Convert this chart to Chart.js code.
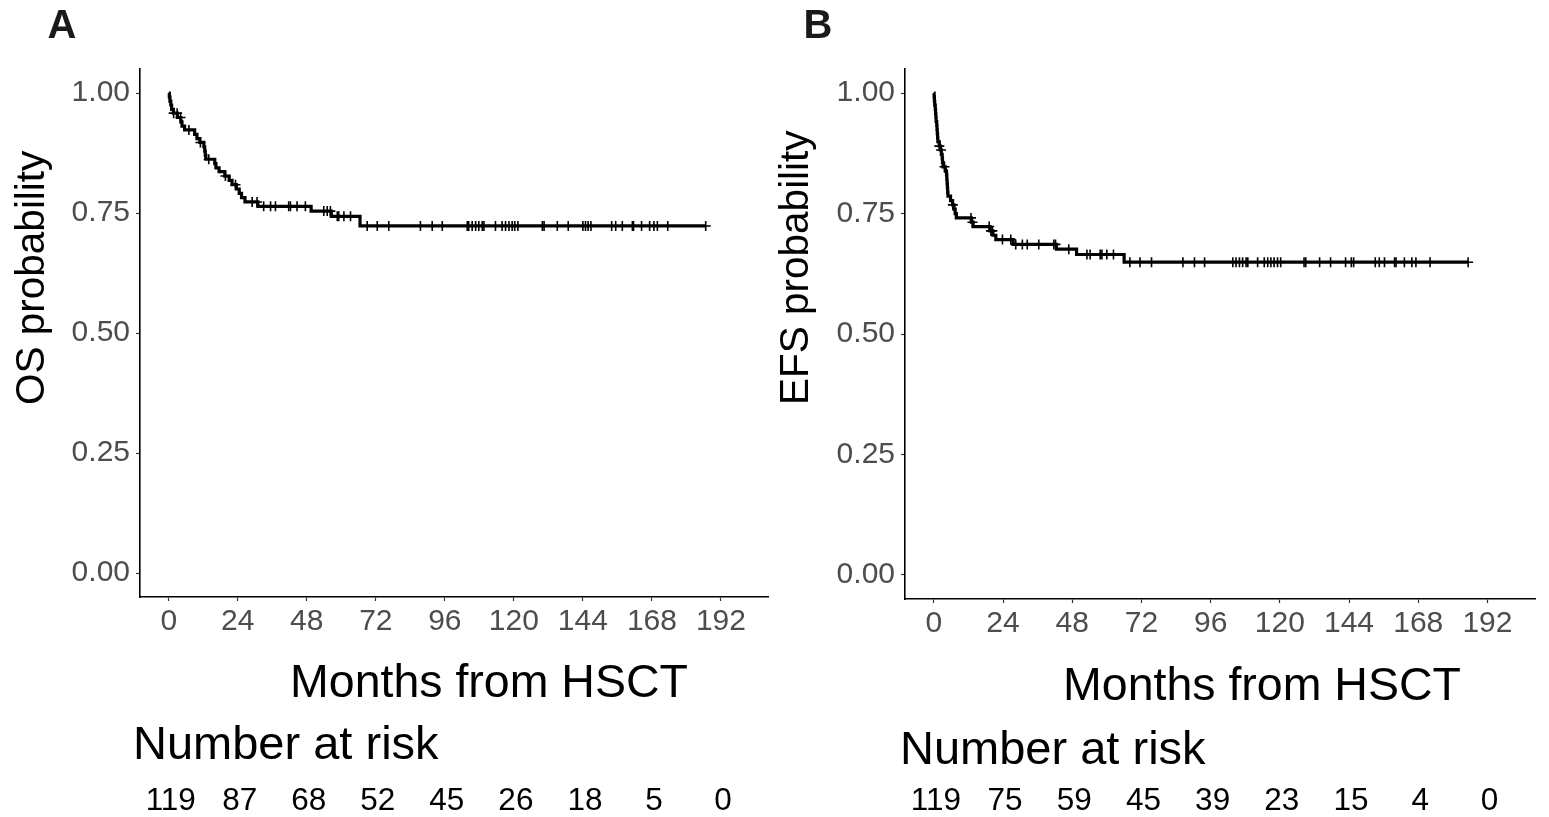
<!DOCTYPE html>
<html lang="en">
<head>
    <meta charset="UTF-8">
    <title>OS and EFS after HSCT</title>
    <script src="https://cdn.jsdelivr.net/npm/chart.js@4.4.1/dist/chart.umd.min.js"></script>
    <style>
        body {
            margin: 0;
            background: #fff;
        }
        .wrap {
            position: relative;
            width: 1549px;
            height: 817px;
        }
        .panel {
            position: absolute;
            top: 0;
        }
    </style>
</head>
<body>
    <div class="wrap">
        <div class="panel" style="left:0"><canvas id="osChart" width="775" height="817"></canvas></div>
        <div class="panel" style="left:775px"><canvas id="efsChart" width="774" height="817"></canvas></div>
    </div>

    <script>
        const FONT = '"Liberation Sans", Arial, sans-serif';

        const xTicks = [0, 24, 48, 72, 96, 120, 144, 168, 192];
        const yTicks = [0, 0.25, 0.5, 0.75, 1];

        // number at risk under each x tick
        const osRisk = [119, 87, 68, 52, 45, 26, 18, 5, 0];
        const efsRisk = [119, 75, 59, 45, 39, 23, 15, 4, 0];

        // Kaplan-Meier steps: time of event (months) and survival after it
        const osTimes = [0, 0.2, 0.4, 0.7, 1.0, 1.6, 3.0, 4.2, 4.6, 5.5, 9.0, 9.8, 10.8, 12.2, 12.5, 12.7, 12.9,
            16.0, 16.4, 17.5, 19.5, 21.0, 22.0, 23.5, 24.5, 25.3, 26.5, 31.0, 49.5, 56.5, 66.5, 186.7];
        const osSurv = [1, 0.992, 0.983, 0.975, 0.966, 0.958, 0.949, 0.940, 0.931, 0.923, 0.914, 0.905, 0.897, 0.888, 0.879, 0.870, 0.862,
            0.853, 0.844, 0.836, 0.827, 0.818, 0.809, 0.800, 0.791, 0.782, 0.773, 0.764, 0.754, 0.743, 0.723, 0.723];
        const osCensor = [1.7, 2.9, 4.1, 7.0, 11.0, 13.9, 19.7, 23.2, 29.0, 30.7, 33.0, 35.4, 37.1, 41.7, 42.3, 44.6, 47.5,
            53.9, 55.1, 56.2, 58.6, 59.1, 60.9, 63.2, 69.0, 72.5, 76.5, 87.5, 91.6, 95.1, 103.8, 104.3, 105.5, 106.7,
            107.8, 109.0, 109.6, 113.6, 115.9, 117.1, 118.3, 119.4, 120.3, 121.4, 129.9, 130.5, 135.1, 138.9, 144.0,
            144.9, 145.8, 146.8, 154.0, 155.4, 157.7, 161.2, 161.6, 164.4, 167.2, 168.7, 169.9, 173.5, 186.7];

        const efsTimes = [0, 0.1, 0.2, 0.3, 0.5, 0.6, 0.7, 0.8, 1.0, 1.1, 1.2, 1.3, 1.4, 1.9, 2.3, 2.6, 2.9, 3.0, 3.2,
            4.0, 4.4, 4.5, 4.6, 4.7, 4.8, 4.9, 5.8, 6.5, 7.0, 7.4, 7.8, 13.0, 13.6, 19.5, 20.5, 21.5, 27.5, 42.5, 49.5, 66.0, 185.3];
        const efsSurv = [1, 0.992, 0.983, 0.975, 0.966, 0.958, 0.950, 0.941, 0.933, 0.924, 0.916, 0.907, 0.899, 0.890, 0.882, 0.873, 0.865, 0.856, 0.847,
            0.838, 0.830, 0.821, 0.812, 0.803, 0.794, 0.786, 0.777, 0.768, 0.759, 0.750, 0.741, 0.732, 0.723, 0.714, 0.705, 0.696, 0.686, 0.676, 0.665, 0.649, 0.649];
        const efsCensor = [1.9, 2.5, 3.7, 6.6, 12.9, 13.4, 19.2, 19.8, 20.3, 23.8, 26.7, 28.4, 30.7, 32.4, 36.4, 41.6, 42.2,
            46.8, 53.1, 54.2, 57.7, 58.3, 60.0, 62.3, 68.0, 71.5, 75.5, 86.4, 90.4, 93.9, 103.7, 104.8, 106.0, 107.1,
            108.3, 108.9, 112.3, 114.6, 115.8, 116.9, 118.0, 119.2, 120.3, 128.4, 129.0, 133.8, 137.6, 142.8, 144.8,
            145.6, 153.1, 154.5, 156.3, 159.8, 160.3, 163.2, 165.8, 167.2, 172.1, 185.3];

        // survival value of the step curve at time t
        function survAt(times, surv, t) {
            let s = surv[0];
            for (let i = 0; i < times.length; i++) {
                if (times[i] <= t) s = surv[i];
            }
            return s;
        }

        // axis titles, panel letter and risk table
        const panelText = {
            id: 'panelText',
            afterDraw(chart) {
                const o = chart.options.plugins.panelText;
                const ctx = chart.ctx;
                const xs = chart.scales.x;
                ctx.save();

                ctx.font = 'bold 40px ' + FONT;
                ctx.fillStyle = '#1a1a1a';
                ctx.textAlign = 'center';
                ctx.textBaseline = 'alphabetic';
                ctx.fillText(o.letter, o.letterX, 38);

                ctx.fillStyle = '#000';
                ctx.save();
                ctx.translate(o.yTitleX, 405);
                ctx.rotate(-Math.PI / 2);
                ctx.textAlign = 'left';
                ctx.font = '40.5px ' + FONT;
                ctx.fillText(o.yTitle, 0, 0);
                ctx.restore();

                ctx.font = '46.5px ' + FONT;
                ctx.textAlign = 'center';
                ctx.fillText('Months from HSCT', o.xTitleX, o.xTitleY);

                ctx.font = '47px ' + FONT;
                ctx.textAlign = 'left';
                ctx.fillText('Number at risk', o.riskX, o.riskTitleY);

                ctx.font = '31.5px ' + FONT;
                ctx.textAlign = 'center';
                o.risk.forEach((n, i) => {
                    ctx.fillText(String(n), xs.getPixelForValue(xTicks[i]) + 2, 810);
                });
                ctx.restore();
            }
        };

        function makePanel(id, p) {
            const curve = p.times.map((t, i) => ({ x: t, y: p.surv[i] }));
            const marks = p.censor.map(t => ({ x: t, y: survAt(p.times, p.surv, t) }));

            const axisCommon = {
                grid: { display: true, drawOnChartArea: false, drawTicks: true, tickLength: 4, tickColor: '#333', tickWidth: 1.2 },
                border: { display: true, color: '#000', width: 1.6 },
                ticks: { color: '#4d4d4d', font: { family: FONT, size: 30 } }
            };

            return new Chart(document.getElementById(id), {
                type: 'line',
                data: {
                    datasets: [{
                        data: curve,
                        borderColor: '#000',
                        borderWidth: 3.2,
                        stepped: 'before',
                        pointRadius: 0,
                        fill: false
                    }, {
                        data: marks,
                        showLine: false,
                        pointStyle: 'cross',
                        pointRadius: 5,
                        borderColor: '#000',
                        pointBorderWidth: 1.6
                    }]
                },
                options: {
                    responsive: false,
                    animation: false,
                    layout: { padding: { left: 0, right: p.padRight, top: p.top, bottom: 0 } },
                    plugins: {
                        legend: { display: false },
                        tooltip: { enabled: false },
                        panelText: p.text
                    },
                    scales: {
                        x: {
                            ...axisCommon,
                            type: 'linear',
                            min: -10,
                            max: 208.5,
                            ticks: { ...axisCommon.ticks, padding: 3, maxRotation: 0, autoSkip: false },
                            afterBuildTicks: s => { s.ticks = xTicks.map(v => ({ value: v })); },
                            afterFit: s => { s.height = p.xHeight; }
                        },
                        y: {
                            ...axisCommon,
                            type: 'linear',
                            min: -0.05,
                            max: 1.05,
                            ticks: { ...axisCommon.ticks, padding: 6, callback: v => v.toFixed(2) },
                            afterBuildTicks: s => { s.ticks = yTicks.map(v => ({ value: v })); },
                            afterFit: s => { s.width = p.yWidth; }
                        }
                    }
                },
                plugins: [panelText]
            });
        }

        makePanel('osChart', {
            times: osTimes, surv: osSurv, censor: osCensor,
            yWidth: 140, padRight: 5, top: 69, xHeight: 220,
            text: { letter: 'A', letterX: 62, yTitle: 'OS probability', yTitleX: 44,
                xTitleX: 489, xTitleY: 697, riskX: 133, riskTitleY: 759, risk: osRisk }
        });

        makePanel('efsChart', {
            times: efsTimes, surv: efsSurv, censor: efsCensor,
            yWidth: 130, padRight: 14, top: 69, xHeight: 218,
            text: { letter: 'B', letterX: 43, yTitle: 'EFS probability', yTitleX: 33,
                xTitleX: 487, xTitleY: 700, riskX: 125, riskTitleY: 764, risk: efsRisk }
        });
    </script>
</body>
</html>
